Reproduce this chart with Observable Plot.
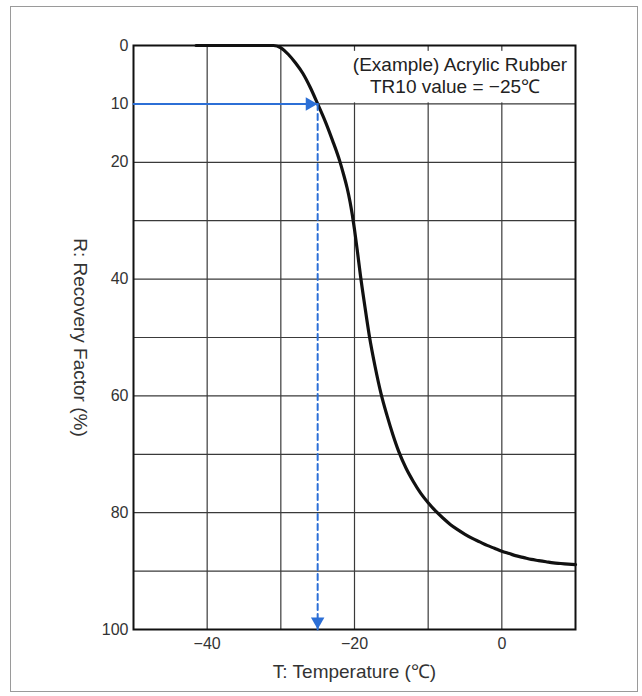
<!DOCTYPE html>
<html>
<head>
<meta charset="utf-8">
<script src="https://cdn.jsdelivr.net/npm/d3@7"></script>
<script src="https://cdn.jsdelivr.net/npm/@observablehq/plot@0.6"></script>
<style>
  html, body { margin: 0; padding: 0; background: #fff; }
  #wrap { position: relative; width: 642px; height: 696px; overflow: hidden; }
  #wrap svg { position: absolute; left: 0; top: 0; }
  #border { position: absolute; left: 10px; top: 6px; width: 628px; height: 686px; border: 1.5px solid #9a9a9a; box-sizing: border-box; pointer-events: none; }
</style>
</head>
<body>
<div id="wrap"><div id="border"></div></div>
<script>
// Curve: T (°C) vs R recovery factor (%)
const temps    = [-41.5, -31, -30, -29, -28, -27, -26, -25, -24, -23, -22, -21.5, -21, -20.6, -20.3, -20, -19.6, -19.2, -18.6, -18, -17.2, -16.4, -15.6, -14.8, -14, -13, -12, -11, -10, -9, -8, -7, -6, -5, -4, -3, -2, -1, 0, 1, 2, 3, 4, 5, 6, 7, 8, 9, 10];
const recovery = [0, 0, 0.4, 1.5, 3.0, 4.8, 7.2, 10, 12.9, 16.2, 19.8, 22.0, 24.4, 26.8, 29.0, 31.5, 35.3, 39.3, 44.6, 49.6, 55.0, 59.6, 63.3, 66.6, 69.5, 72.4, 74.7, 76.7, 78.3, 79.7, 80.9, 82.0, 82.9, 83.7, 84.4, 85.0, 85.6, 86.1, 86.6, 87.0, 87.4, 87.7, 88.0, 88.2, 88.4, 88.6, 88.7, 88.8, 88.9];

const xTicks = [-40, -20, 0];
const yTicks = [0, 10, 20, 40, 60, 80, 100];
const xGrid = [-40, -30, -20, -10, 0];
const yGrid = [10, 20, 30, 40, 50, 60, 70, 80, 90];

// TR10 reading
const tr10 = [{T: -25, R: 10}];
const arrowStartT = [-50];
const arrowEndR = [100];
const annotBox = [{x1: -20, x2: 10, y1: 1, y2: 10}];
const annotLines = ["(Example) Acrylic Rubber", "TR10 value = \u221225\u2103"];

const curve = temps.map((t, i) => ({T: t, R: recovery[i]}));
const hArrow = [{T: arrowStartT[0], R: tr10[0].R}, {T: tr10[0].T, R: tr10[0].R}];
const vArrow = [{T: tr10[0].T, R: tr10[0].R}, {T: tr10[0].T, R: arrowEndR[0]}];
const blue = "#2c6fd6";

const chart = Plot.plot({
  width: 642,
  height: 696,
  marginLeft: 133,
  marginRight: 67,
  marginTop: 45,
  marginBottom: 67,
  style: {fontFamily: "'Liberation Sans', Arial, sans-serif", fontSize: "16px", color: "#333", background: "transparent"},
  x: {domain: [-50, 10]},
  y: {domain: [0, 100], range: [45, 629]},
  marks: [
    Plot.ruleX(xGrid, {stroke: "#3a3a3a", strokeWidth: 1.2, strokeOpacity: 1}),
    Plot.ruleY(yGrid, {stroke: "#3a3a3a", strokeWidth: 1.2, strokeOpacity: 1}),
    Plot.rect(annotBox, {x1: "x1", x2: "x2", y1: "y1", y2: "y2", fill: "white", insetLeft: -2, insetRight: 2, insetBottom: 1}),
    Plot.frame({stroke: "#111", strokeWidth: 2}),
    Plot.axisX({ticks: xTicks, tickSize: 0, tickPadding: 8, label: null, tickFormat: d => d < 0 ? "\u2212" + Math.abs(d) : String(d), fontSize: 16}),
    Plot.axisY({ticks: yTicks, tickSize: 0, tickPadding: 5, label: null, fontSize: 16}),
    Plot.line(curve, {x: "T", y: "R", stroke: "#111", strokeWidth: 3.2, curve: "monotone-x"}),
    Plot.line(hArrow, {x: "T", y: "R", stroke: blue, strokeWidth: 2}),
    Plot.line(vArrow, {x: "T", y: "R", stroke: blue, strokeWidth: 2, strokeDasharray: "6,4"}),
    Plot.dot(tr10, {x: "T", y: "R", symbol: "triangle", r: 5, fill: blue, stroke: "none", rotate: 90, dx: -8}),
    Plot.dot(tr10, {x: "T", y: () => arrowEndR[0], symbol: "triangle", r: 5, fill: blue, stroke: "none", rotate: 180, dy: -8}),
    Plot.text([annotLines[0]], {x: -5, y: 0, dx: -5, dy: 19, text: d => d, fontSize: 19, fill: "#222", textAnchor: "middle"}),
    Plot.text([annotLines[1]], {x: -5, y: 0, dx: -10, dy: 41, text: d => d, fontSize: 19, fill: "#222", textAnchor: "middle"}),
    Plot.text(["T: Temperature (\u2103)"], {frameAnchor: "bottom", dy: 48, text: d => d, fontSize: 19, fill: "#333"}),
    Plot.text(["R: Recovery Factor (%)"], {frameAnchor: "left", dx: -53, rotate: 90, textAnchor: "middle", text: d => d, fontSize: 19, fill: "#333"})
  ]
});
document.getElementById("wrap").appendChild(chart);
</script>
</body>
</html>
